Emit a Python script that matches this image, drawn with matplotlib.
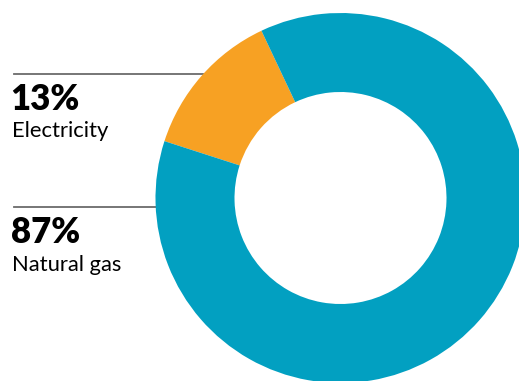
import matplotlib
matplotlib.use("Agg")
import matplotlib.pyplot as plt

# data
labels = ["Electricity", "Natural gas"]
shares = [13, 87]
colors = ["#F7A123", "#02A0C1"]

W, H = 519, 381
fig = plt.figure(figsize=(W / 100, H / 100), dpi=100)
ax = fig.add_axes([0, 0, 1, 1])

# donut, drawn in pixel-like coordinates (y up)
cx, cy = 340.5, 183
r_out, r_in = 185, 106
ax.pie(shares, colors=colors, startangle=115.3, counterclock=True,
       center=(cx, cy), radius=r_out,
       wedgeprops=dict(width=r_out - r_in, linewidth=0))

ax.set_xlim(0, W)
ax.set_ylim(0, H)
ax.set_aspect("equal")
ax.axis("off")

font = "Lato"
line_col = "#6b6b6b"

# leader lines
ax.plot([14, 203], [H - 73.7, H - 73.7], color=line_col, lw=1.3, zorder=0)
ax.plot([14, 156], [H - 207.3, H - 207.3], color=line_col, lw=1.3, zorder=0)

# labels
for share, label, y_pct, y_lab in [(shares[0], labels[0], 110, 137),
                                   (shares[1], labels[1], 243, 271)]:
    ax.text(10.5, H - y_pct, f"{share}%", fontsize=25, fontweight="heavy",
            family=font, color="black", va="baseline", ha="left")
    ax.text(11.5, H - y_lab, label, fontsize=15.8, family=font,
            color="black", va="baseline", ha="left")

fig.savefig("out.png", dpi=100)
